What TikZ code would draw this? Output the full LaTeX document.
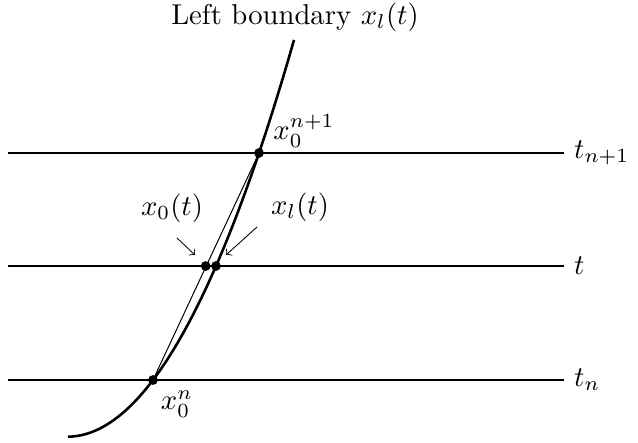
\documentclass[tikz,border=0pt]{standalone}
\begin{document}
\begin{tikzpicture}[x=0.3484pt,y=-0.3484pt,
  hline/.style={line width=0.4pt},
  bnd/.style={line width=0.9pt},
  dot/.style={circle,fill=black,inner sep=0pt,minimum size=3.4pt},
  pointer/.style={line width=0.3pt,->,>=to}]
\useasboundingbox (0,0) rectangle (638,442);
% time levels
\coordinate (a1) at (8,153);
\coordinate (a2) at (8,266);
\coordinate (a3) at (8,380);
\node[anchor=west] (tn1) at (564,153) {$t_{n+1}$};
\node[anchor=west] (tt) at (564,266) {$t$};
\node[anchor=west] (tn) at (564,380) {$t_n$};
\draw[hline] (a1) -- (tn1.west);
\draw[hline] (a2) -- (tt.west);
\draw[hline] (a3) -- (tn.west);
% boundary curve (parabola)
\draw[bnd] plot[domain=68:294,samples=80,smooth] (\x,{266-2.296*(\x-216)-0.00772*(\x-216)*(\x-216)});
% points
\coordinate (p1) at (259,153);
\coordinate (pn) at (153,380);
\coordinate (q0) at (205.7,266);
\coordinate (ql) at (216,266);
\draw[line width=0.35pt] (pn) -- (p1);
\node[dot] (d1) at (p1) {};
\node[dot] (dn) at (pn) {};
\node[dot] (d0) at (q0) {};
\node[dot] (dl) at (ql) {};
% labels
\node (title) at (295,17) {Left boundary $x_l(t)$};
\node (lp1) at (304,131) {$x_0^{n+1}$};
\node (lpn) at (177,404) {$x_0^{n}$};
\node (lx0) at (172,208) {$x_0(t)$};
\node (lxl) at (300,207) {$x_l(t)$};
\coordinate (s0) at (177,238);
\coordinate (e0) at (195,255);
\coordinate (sl) at (257,227);
\coordinate (el) at (226,255);
\draw[pointer] (s0) -- (e0);
\draw[pointer] (sl) -- (el);
\end{tikzpicture}
\end{document}
